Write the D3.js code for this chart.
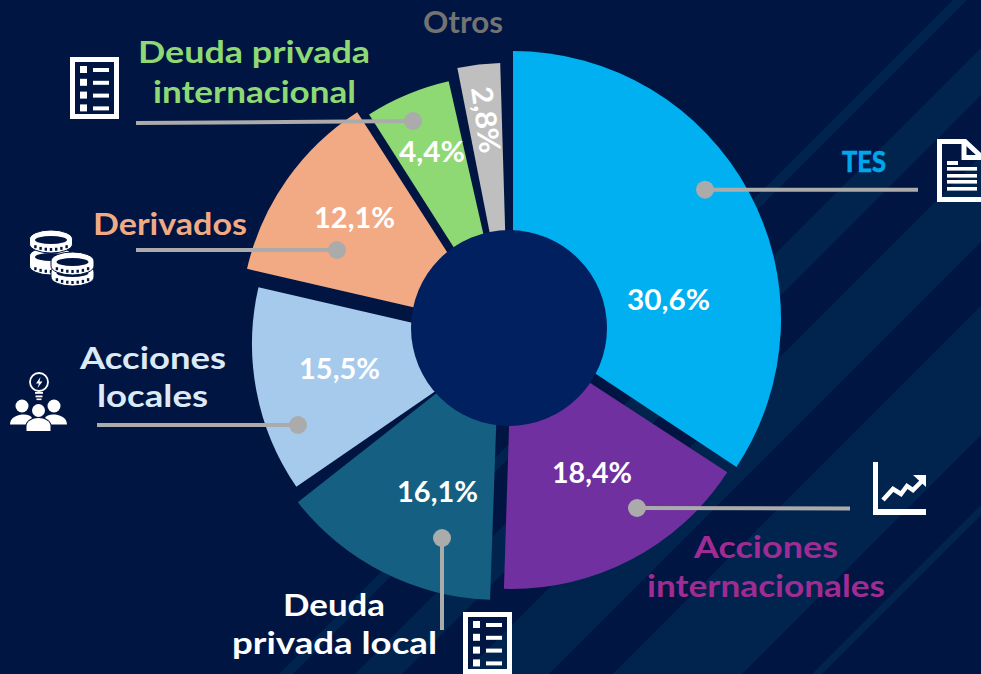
<!DOCTYPE html>
<html><head><meta charset="utf-8">
<style>html,body{margin:0;padding:0;background:#001542;overflow:hidden}svg{display:block}text{font-family:Lato,"Open Sans",sans-serif;font-weight:700}</style>
<script src="https://cdn.jsdelivr.net/npm/d3@7"></script></head><body><svg id="c" width="981" height="674"></svg>
<script>
// Data: categories and printed percentages
const categories=["TES","Acciones internacionales","Deuda privada local","Acciones locales","Derivados","Deuda privada internacional","Otros"];
const percentLabels=["30,6%","18,4%","16,1%","15,5%","12,1%","4,4%","2,8%"];
// The drawn wedges in the picture do not follow the printed percentages exactly: angles as measured, in degrees
const sliceStartDeg=[0,123.1,182,235.5,283,327.5,348.9];
const sliceEndDeg=[123.5,181.8,231.8,283,327.3,347.2,358.3];
// Layout
const sliceRadius=[268,257,256,252,254,252,263];
const sliceApexX=[513,512,499,504,494.5,504.5,508];
const sliceApexY=[319,332,344,344,326,327,326];
const sliceColors=["#00B0F0","#7030A0","#156082","#A6CAEC","#F2AA84","#8ED973","#BFBFBF"];
const bg="#001542",stripe="#00244E",hole="#002060",grey="#ABABAB";
const stripeBands=[[953,967],[1029,1076],[1137,1223],[1287,1416],[1486,1496]];
const leaders=[[705,189.7,918,189.7],[637,508,850,508.5],[442,538,442,630],[298,425,97,425],[337,250,136,250],[413,121,136,123]];
const nameLines=[
 {t:"TES",x:842,y:172,w:44,s:29,c:"#00A7EC"},
 {t:"Acciones",x:694,y:558,w:144,s:30,c:"#A02B93"},
 {t:"internacionales",x:647,y:597,w:238,s:30,c:"#A02B93"},
 {t:"Deuda",x:283,y:616,w:102,s:30,c:"#FFFFFF"},
 {t:"privada local",x:232,y:654,w:205,s:30,c:"#FFFFFF"},
 {t:"Acciones",x:80,y:369,w:146,s:30,c:"#DCE9F7"},
 {t:"locales",x:97,y:407,w:111,s:30,c:"#DCE9F7"},
 {t:"Derivados",x:93,y:235,w:154,s:30,c:"#F2AA84"},
 {t:"Deuda privada",x:138,y:63,w:232,s:30,c:"#8ED973"},
 {t:"internacional",x:153,y:103,w:203,s:30,c:"#8ED973"},
 {t:"Otros",x:423,y:33,w:80,s:30,c:"#737373"}];
const pctX=[627,552,397,299,314,399,471];
const pctY=[310,483,502,379,228,162,88];
const pctW=[83,80,81,81,81,66,67];

const svg=d3.select("#c");
const W=981,H=674;
svg.append("rect").attr("width",W).attr("height",H).attr("fill",bg);
// 45-degree background bands: x+y between c0 and c1
const diag=d3.line();
svg.selectAll("path.band").data(stripeBands).join("path").attr("class","band").attr("fill",stripe)
  .attr("d",b=>diag([[b[0]-H,H],[b[0],0],[b[1],0],[b[1]-H,H]])+"Z");
const ang=d3.scaleLinear().domain([0,360]).range([0,2*Math.PI]);
const arc=d3.arc().innerRadius(0);
svg.selectAll("path.slice").data(categories).join("path").attr("class","slice")
  .attr("transform",(d,i)=>`translate(${sliceApexX[i]},${sliceApexY[i]})`)
  .attr("fill",(d,i)=>sliceColors[i])
  .attr("d",(d,i)=>arc({outerRadius:sliceRadius[i],startAngle:ang(sliceStartDeg[i]),endAngle:ang(sliceEndDeg[i])}));
svg.append("circle").attr("cx",509).attr("cy",328).attr("r",98).attr("fill",hole);
// leaders
svg.selectAll("line.lead").data(leaders).join("line").attr("class","lead")
  .attr("x1",d=>d[0]).attr("y1",d=>d[1]).attr("x2",d=>d[2]).attr("y2",d=>d[3])
  .attr("stroke",grey).attr("stroke-width",4);
svg.selectAll("circle.dot").data(leaders).join("circle").attr("class","dot")
  .attr("cx",d=>d[0]).attr("cy",d=>d[1]).attr("r",9).attr("fill",grey);
// names
svg.selectAll("text.name").data(nameLines).join("text").attr("class","name")
  .attr("x",d=>d.x).attr("y",d=>d.y).attr("font-size",d=>d.s).attr("fill",d=>d.c)
  .attr("stroke",d=>d.t==="TES"?d.c:"none").attr("stroke-width",0.7)
  .attr("textLength",d=>d.w).attr("lengthAdjust","spacingAndGlyphs").text(d=>d.t);
// percentages
svg.selectAll("text.pct").data(percentLabels).join("text").attr("class","pct")
  .attr("font-size",29).attr("fill","#fff")
  .attr("textLength",(d,i)=>pctW[i]).attr("lengthAdjust","spacingAndGlyphs")
  .attr("transform",(d,i)=>`translate(${pctX[i]},${pctY[i]})`+(i===6?" rotate(82)":""))
  .text(d=>d);

// Icons
const ic=svg.append("g").attr("fill","#fff");
function checklist(dx,dy){
  const g=ic.append("g").attr("transform",`translate(${dx},${dy})`);
  g.append("rect").attr("x",72.5).attr("y",59.5).attr("width",44).attr("height",57).attr("fill","none").attr("stroke","#fff").attr("stroke-width",5);
  d3.range(4).forEach(k=>{
    g.append("rect").attr("x",80).attr("y",66+k*12.8).attr("width",7).attr("height",7);
    g.append("rect").attr("x",93).attr("y",68+k*12.8).attr("width",16).attr("height",4);
  });
}
checklist(0,0);checklist(393,555);
// document
ic.append("path").attr("d","M939.5,141.5H965L985,160V199.5H939.5Z").attr("fill","none").attr("stroke","#fff").attr("stroke-width",5);
ic.append("path").attr("d","M964,141V157.5H983").attr("fill","none").attr("stroke","#fff").attr("stroke-width",5);
ic.append("rect").attr("x",947).attr("y",161).attr("width",11).attr("height",4);
[167,174,180,187].forEach(y=>ic.append("rect").attr("x",947).attr("y",y).attr("width",30).attr("height",3.6));
// trend chart
ic.append("path").attr("d","M873,462H878V509H926V515H873Z");
ic.append("path").attr("d","M883,500L893,489L901,494L907,486L913,490L923,480").attr("fill","none").attr("stroke","#fff").attr("stroke-width",4.5);
ic.append("path").attr("d","M913,475H926V487Z");
// coins
function coin(cx,cy,h){
  const rx=21.5,ry=9;
  ic.append("path").attr("stroke",bg).attr("stroke-width",1)
    .attr("d",`M${cx-rx},${cy}A${rx},${ry} 0 0 1 ${cx+rx},${cy}V${cy+h}A${rx},${ry} 0 0 1 ${cx-rx},${cy+h}Z`);
  ic.append("ellipse").attr("cx",cx).attr("cy",cy+1).attr("rx",16).attr("ry",4).attr("fill",bg);
  d3.range(-3,4).forEach(k=>{
    const t=k*5.2/rx;
    ic.append("rect").attr("x",cx+k*5.2-1.2).attr("y",cy+h+ry*Math.sqrt(1-t*t)-5).attr("width",2.4).attr("height",3).attr("fill",bg);
  });
}
coin(51,256,10);coin(51,239,5);coin(72.5,272,5);coin(72.5,261,5);
// people + bulb
ic.append("circle").attr("cx",39).attr("cy",382).attr("r",9).attr("fill","none").attr("stroke","#fff").attr("stroke-width",1.8);
ic.append("path").attr("d","M40.5,377L36,383.5H39L37.5,388L42.5,381.5H39.5Z");
ic.append("rect").attr("x",35).attr("y",392).attr("width",8).attr("height",1.8);
ic.append("rect").attr("x",35.5).attr("y",395.5).attr("width",7).attr("height",1.8);
ic.append("rect").attr("x",36.5).attr("y",398.5).attr("width",5).attr("height",1.6);
[[22,406,6.5],[54,406,6.5],[38.5,410.5,6.5]].forEach(p=>ic.append("circle").attr("cx",p[0]).attr("cy",p[1]).attr("r",p[2]));
ic.append("path").attr("d","M10,424.5C10,417 18,414.5 24,414.5C28,414.5 31,416 32,418C29,419.5 27,421 25.5,424.5Z");
ic.append("path").attr("d","M67,424.5C67,417 59,414.5 53,414.5C49,414.5 46,416 45,418C48,419.5 50,421 51.5,424.5Z");
ic.append("path").attr("d","M26.5,431V426C26.5,421 33,418 38.5,418C44,418 50.5,421 50.5,426V431Z");
</script></body></html>
